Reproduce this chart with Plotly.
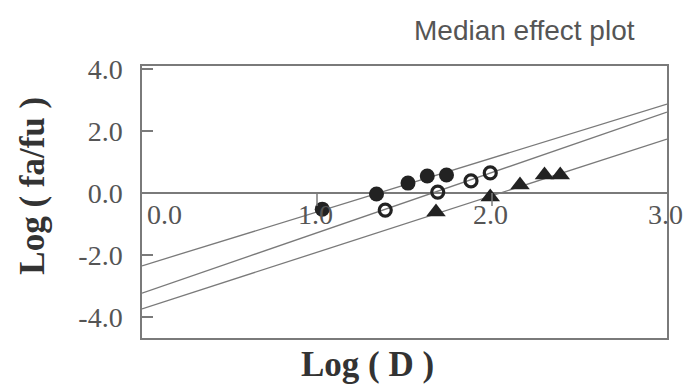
import plotly.graph_objects as go

# Data
filled_x = [1.03, 1.34, 1.52, 1.63, 1.74]
filled_y = [-0.52, -0.03, 0.32, 0.55, 0.58]
open_x = [1.39, 1.69, 1.88, 1.99]
open_y = [-0.55, 0.03, 0.39, 0.65]
tri_x = [1.68, 1.99, 2.16, 2.30, 2.39]
tri_y = [-0.61, -0.13, 0.26, 0.58, 0.58]

line_x = [0.0, 3.0]
line1_y = [-2.35, 2.87]
line2_y = [-3.23, 2.61]
line3_y = [-3.74, 1.74]

y_ticks = [-4, -2, 0, 2, 4]
y_tick_text = ["-4.0", "-2.0", "0.0", "2.0", "4.0"]
x_ticks = [0, 1, 2, 3]
x_tick_text = ["0.0", "1.0", "2.0", "3.0"]

GRAY = "#555555"
LINE = "#7a7a7a"
MARK = "#222222"
SERIF = "Liberation Serif, Times New Roman, serif"
SANS = "Liberation Sans, Arial, sans-serif"

plot_l, plot_r, plot_t, plot_b = 142, 20, 66, 49
W, H = 687, 387
pw = W - plot_l - plot_r
ph = H - plot_t - plot_b

fig = go.Figure()
for ly in (line1_y, line2_y, line3_y):
    fig.add_trace(go.Scatter(x=line_x, y=ly, mode="lines",
                             line=dict(color=LINE, width=1.3),
                             showlegend=False, hoverinfo="skip", cliponaxis=True))

fig.add_trace(go.Scatter(x=filled_x, y=filled_y, mode="markers",
                         marker=dict(symbol="circle", size=15, color=MARK),
                         showlegend=False))
fig.add_trace(go.Scatter(x=open_x, y=open_y, mode="markers",
                         marker=dict(symbol="circle-open", size=12, color=MARK,
                                     line=dict(width=3.2, color=MARK)),
                         showlegend=False))
fig.add_trace(go.Scatter(x=tri_x, y=tri_y, mode="markers",
                         marker=dict(symbol="triangle-up", size=17, color=MARK),
                         showlegend=False))

annotations = []
for xv, t in zip(x_ticks, x_tick_text):
    annotations.append(dict(x=xv, y=0, xref="x", yref="y", text=t, showarrow=False,
                            xanchor="center", yanchor="middle",
                            yshift=-21, xshift=(22 if xv == 0 else -2),
                            font=dict(family=SERIF, size=28, color=GRAY)))

annotations.append(dict(x=0.43, y=0, xref="paper", yref="paper", text="<b>Log ( D )</b>",
                        showarrow=False, xanchor="center", yanchor="middle", yshift=-26,
                        font=dict(family=SERIF, size=35, color="#333333")))
annotations.append(dict(x=0, y=0.56, xref="paper", yref="paper", text="<b>Log ( fa/fu )</b>",
                        showarrow=False, xanchor="center", yanchor="middle", xshift=-109,
                        textangle=-90,
                        font=dict(family=SERIF, size=35, color="#333333")))
annotations.append(dict(x=(524 - plot_l) / pw, y=(H - plot_b - 30) / ph,
                        xref="paper", yref="paper", text="Median effect plot",
                        showarrow=False, xanchor="center", yanchor="middle",
                        font=dict(family=SANS, size=28, color=GRAY)))

shapes = []
for xv in x_ticks[1:3]:
    shapes.append(dict(type="line", xref="x", yref="y", x0=xv, x1=xv,
                       ysizemode="pixel", yanchor=0, y0=0, y1=-13,
                       line=dict(color=LINE, width=1.5)))

fig.update_layout(
    width=W, height=H,
    margin=dict(l=plot_l, r=plot_r, t=plot_t, b=plot_b),
    paper_bgcolor="white", plot_bgcolor="white",
    xaxis=dict(range=[0, 3], showgrid=False, zeroline=False, showticklabels=False,
               ticks="", showline=True, mirror=True, linecolor=LINE, linewidth=1.5),
    yaxis=dict(range=[-4.68, 4.10], showgrid=False, zeroline=True, zerolinecolor=LINE,
               zerolinewidth=1.5, tickvals=y_ticks, ticktext=y_tick_text,
               ticks="inside", ticklen=11, tickcolor=LINE, tickwidth=1.5,
               ticklabelstandoff=12,
               tickfont=dict(family=SERIF, size=28, color=GRAY),
               showline=True, mirror=True, linecolor=LINE, linewidth=1.5),
    annotations=annotations,
    shapes=shapes,
)

fig.write_html("out.html")
